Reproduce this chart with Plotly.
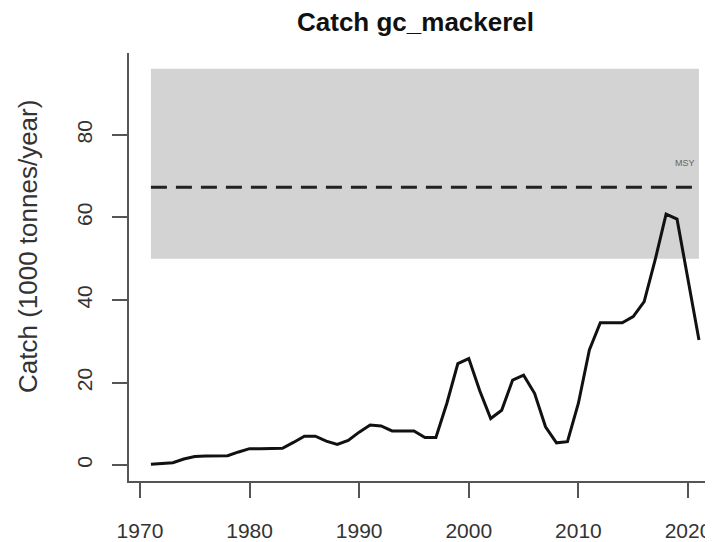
import plotly.graph_objects as go

# catch series, 1000 tonnes/year
years = list(range(1971, 2022))
catch = [0.2, 0.4, 0.6, 1.5, 2.1, 2.2, 2.2, 2.3, 3.2, 4.0,
         4.0, 4.0, 4.1, 5.5, 7.0, 7.0, 5.8, 5.0, 6.0, 8.0,
         9.7, 9.5, 8.3, 8.3, 8.3, 6.7, 6.7, 15.0, 24.6, 25.8,
         18.0, 11.3, 13.3, 20.6, 21.8, 17.4, 9.3, 5.4, 5.7, 15.0,
         27.9, 34.5, 34.5, 34.5, 36.0, 39.6, 49.7, 60.8, 59.6, 45.2,
         30.3]

# MSY with its range
msy = 67.3
msy_lower = 50.0
msy_upper = 96.0

x_ticks = [1970, 1980, 1990, 2000, 2010, 2020]
y_ticks = [0, 20, 40, 60, 80]

txt = "#333333"
axcol = "#555555"

# page body has an 8px margin, so the figure is 8px smaller each way
W, H = 705, 534
L, T, B = 121, 45, 61

fig = go.Figure()

# shaded MSY range
fig.add_shape(type="rect", xref="x", yref="y",
              x0=years[0], x1=years[-1], y0=msy_lower, y1=msy_upper,
              fillcolor="#d3d3d3", line=dict(width=0), layer="below")

# MSY dashed line
fig.add_trace(go.Scatter(
    x=[years[0], years[-1]], y=[msy, msy], mode="lines",
    line=dict(color="#222222", width=3, dash="16px,9px"),
    hoverinfo="skip", showlegend=False))

# catch line
fig.add_trace(go.Scatter(
    x=years, y=catch, mode="lines",
    line=dict(color="#111111", width=3),
    showlegend=False))

fig.add_annotation(x=years[-1], y=73.2, xref="x", yref="y", text="MSY",
                   showarrow=False, xanchor="right", yanchor="middle",
                   xshift=-2, font=dict(size=9, color="#666666"))

pw = W - L
ph = H - T - B
# title and y label
fig.add_annotation(x=(407 - L) / pw, y=1, xref="paper", yref="paper",
                   yshift=31, text="<b>Catch gc_mackerel</b>",
                   showarrow=False, xanchor="center", yanchor="middle",
                   font=dict(size=26, color="#111111"))
fig.add_annotation(x=-(L - 20) / pw, y=(H - B - 239) / ph,
                   xref="paper", yref="paper", textangle=-90,
                   text="Catch (1000 tonnes/year)", showarrow=False,
                   xanchor="center", yanchor="middle",
                   font=dict(size=26, color=txt))

fig.update_layout(
    width=W, height=H,
    margin=dict(l=L, r=0, t=T, b=B, autoexpand=False),
    plot_bgcolor="white", paper_bgcolor="white",
    font=dict(family="Liberation Sans, Arial, sans-serif", color=txt),
    xaxis=dict(range=[1969, 2022.28], tickvals=x_ticks, showgrid=False,
               zeroline=False, showline=True, linecolor=axcol, linewidth=1.5,
               ticks="outside", ticklen=15, tickwidth=1.5, tickcolor=axcol,
               tickfont=dict(size=21, color=txt), ticklabelstandoff=15,
               automargin=False),
    yaxis=dict(range=[-3.84, 99.84], tickvals=y_ticks, showgrid=False,
               zeroline=False, showline=True, linecolor=axcol, linewidth=1.5,
               ticks="outside", ticklen=15, tickwidth=1.5, tickcolor=axcol,
               tickangle=-90, tickfont=dict(size=21, color=txt),
               ticklabelstandoff=12, automargin=False),
)

fig.write_html("out.html")
